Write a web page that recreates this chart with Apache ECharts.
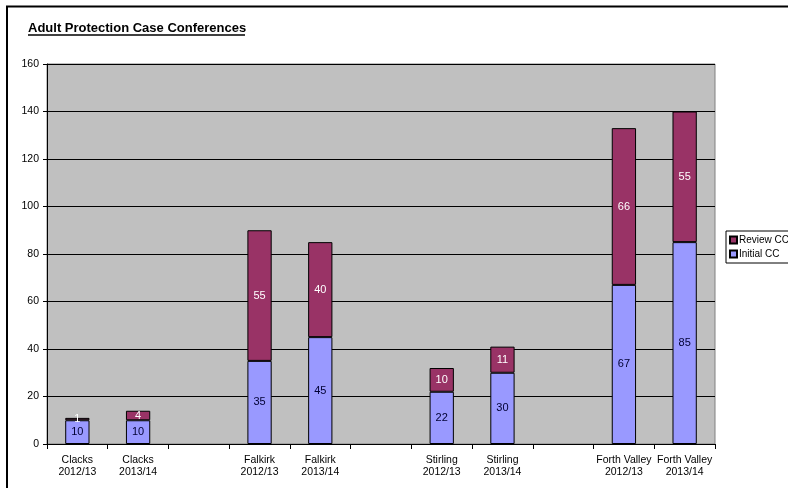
<!DOCTYPE html>
<html>
<head>
<meta charset="utf-8">
<script src="https://cdn.jsdelivr.net/npm/echarts@6/dist/echarts.min.js"></script>
<style>
  html, body { margin: 0; padding: 0; background: #fff; }
  #chart { width: 788px; height: 488px; }
</style>
</head>
<body>
<div id="chart"></div>
<script>
// Areas and years; empty strings leave a gap between the areas
const categories = [
  'Clacks\n2012/13', 'Clacks\n2013/14', '',
  'Falkirk\n2012/13', 'Falkirk\n2013/14', '',
  'Stirling\n2012/13', 'Stirling\n2013/14', '',
  'Forth Valley\n2012/13', 'Forth Valley\n2013/14'
];
const initialCC = [10, 10, null, 35, 45, null, 22, 30, null, 67, 85];
const reviewCC  = [1, 4, null, 55, 40, null, 10, 11, null, 66, 55];
const yTicks = { min: 0, max: 160, interval: 20 };

const FONT = '"Liberation Sans", Arial, sans-serif';
const chart = echarts.init(document.getElementById('chart'), null, { renderer: 'canvas' });

chart.setOption({
  animation: false,
  backgroundColor: '#ffffff',
  textStyle: { fontFamily: FONT },
  grid: {
    left: 47, right: 73, top: 64, bottom: 44,
    show: true, backgroundColor: '#C0C0C0', borderColor: '#808080', borderWidth: 1
  },
  graphic: [
    // outer chart frame
    { type: 'polyline', shape: { points: [[7, 490], [7, 6.5], [790, 6.5]] },
      style: { stroke: '#000', lineWidth: 2, fill: null }, z: 10 },
    // underlined title
    { type: 'text', left: 28, top: 22,
      style: { text: 'Adult Protection Case Conferences', font: 'bold 13px ' + FONT, fill: '#000' } },
    { type: 'line', shape: { x1: 28, y1: 35, x2: 245, y2: 35 },
      style: { stroke: '#000', lineWidth: 1.5 } }
  ],
  legend: {
    left: 726, top: 231, orient: 'vertical',
    data: ['Review CC', 'Initial CC'],
    icon: 'rect', itemWidth: 7, itemHeight: 7, itemGap: 4,
    padding: [4, 6, 4, 3],
    borderColor: '#000', borderWidth: 1, backgroundColor: '#fff',
    textStyle: { fontSize: 10, color: '#000', fontFamily: FONT, padding: [0, 0, 0, -3] }
  },
  xAxis: {
    type: 'category', data: categories, boundaryGap: true,
    axisLine: { lineStyle: { color: '#000', width: 1 } },
    axisTick: { show: true, interval: 0, length: 5, lineStyle: { color: '#000' } },
    axisLabel: { interval: 0, fontSize: 10.5, lineHeight: 12, color: '#000', margin: 10, fontFamily: FONT }
  },
  yAxis: {
    type: 'value', min: yTicks.min, max: yTicks.max, interval: yTicks.interval,
    axisLine: { show: true, lineStyle: { color: '#000' } },
    axisTick: { show: true, length: 4, lineStyle: { color: '#000' } },
    splitLine: { lineStyle: { color: '#000', width: 1 } },
    axisLabel: { fontSize: 10.5, color: '#000', margin: 8, fontFamily: FONT }
  },
  series: [
    {
      name: 'Initial CC', type: 'bar', stack: 'cc', data: initialCC,
      barWidth: '40%',
      itemStyle: { color: '#9999FF', borderColor: '#000', borderWidth: 1 },
      label: { show: true, position: 'inside', color: '#000033', fontSize: 11, fontFamily: FONT }
    },
    {
      name: 'Review CC', type: 'bar', stack: 'cc', data: reviewCC,
      barWidth: '40%',
      itemStyle: { color: '#993366', borderColor: '#000', borderWidth: 1 },
      label: { show: true, position: 'inside', color: '#ffffff', fontSize: 11, fontFamily: FONT }
    }
  ]
});
</script>
</body>
</html>
